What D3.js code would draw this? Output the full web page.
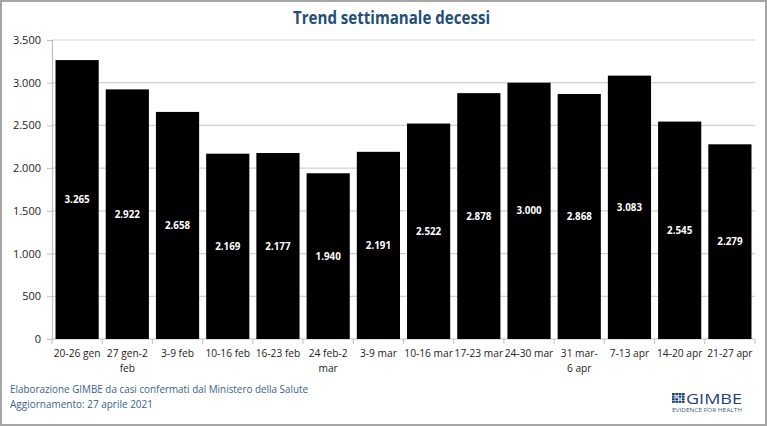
<!DOCTYPE html>
<html>
<head>
<meta charset="utf-8">
<script src="https://cdn.jsdelivr.net/npm/d3@7"></script>
<style>
  body { margin: 0; background: #fff; }
  svg { display: block; }
  text { font-family: "Open Sans", "Noto Sans", sans-serif; }
</style>
</head>
<body>
<svg id="chart" width="767" height="426"></svg>
<script>
// dati
const weeks = ["20-26 gen", "27 gen-2 feb", "3-9 feb", "10-16 feb", "16-23 feb", "24 feb-2 mar", "3-9 mar",
  "10-16 mar", "17-23 mar", "24-30 mar", "31 mar-6 apr", "7-13 apr", "14-20 apr", "21-27 apr"];
// etichette su due righe
const weekLines = [["20-26 gen"], ["27 gen-2", "feb"], ["3-9 feb"], ["10-16 feb"], ["16-23 feb"], ["24 feb-2", "mar"],
  ["3-9 mar"], ["10-16 mar"], ["17-23 mar"], ["24-30 mar"], ["31 mar-", "6 apr"], ["7-13 apr"], ["14-20 apr"], ["21-27 apr"]];
const deaths = [3265, 2922, 2658, 2169, 2177, 1940, 2191, 2522, 2878, 3000, 2868, 3083, 2545, 2279];
const yTicks = [0, 500, 1000, 1500, 2000, 2500, 3000, 3500];

const it = d3.formatLocale({ decimal: ",", thousands: ".", grouping: [3], currency: ["€", ""] });
const fmt = it.format(",d");

const svg = d3.select("#chart");
const mLeft = 52, mRight = 755, mTop = 40, mBottom = 339;

// cornice
svg.append("rect")
  .attr("x", 1).attr("y", 1).attr("width", 765).attr("height", 424)
  .attr("fill", "#fff").attr("stroke", "#a6a6a6").attr("stroke-width", 2);

// titolo
svg.append("text")
  .attr("x", 293).attr("y", 24)
  .attr("font-size", 17.5).attr("font-weight", "bold")
  .attr("fill", "#1f4e79")
  .attr("textLength", 197).attr("lengthAdjust", "spacingAndGlyphs")
  .text("Trend settimanale decessi");

const x = d3.scaleBand().domain(weeks).range([mLeft, mRight]).paddingInner(0.14).paddingOuter(0.07);
const y = d3.scaleLinear().domain([0, 3500]).range([mBottom, mTop]);

// griglia
svg.append("g")
  .selectAll("line")
  .data(yTicks.slice(1))
  .enter()
  .append("line")
  .attr("x1", mLeft).attr("x2", mRight)
  .attr("y1", d => y(d)).attr("y2", d => y(d))
  .attr("stroke", "#d0d0d0").attr("stroke-width", 1.2);

// asse y
const yAxis = svg.append("g")
  .attr("transform", `translate(${mLeft},0)`)
  .call(d3.axisLeft(y).tickValues(yTicks).tickFormat(fmt).tickSize(5).tickPadding(6));
yAxis.select(".domain").attr("stroke", "#bfbfbf").attr("stroke-width", 1.2);
yAxis.selectAll(".tick line").attr("stroke", "#bfbfbf");
yAxis.selectAll(".tick text").attr("font-size", 11).attr("fill", "#222");

// asse x
const bounds = weeks.map((w, i) => i === 0 ? mLeft : x(w) - x.step() * x.paddingInner() / 2).concat([mRight]);
const xAxis = svg.append("g");
xAxis.append("line")
  .attr("x1", mLeft).attr("x2", mRight).attr("y1", mBottom).attr("y2", mBottom)
  .attr("stroke", "#bfbfbf").attr("stroke-width", 1.2);
xAxis.selectAll(".xt")
  .data(bounds)
  .enter()
  .append("line")
  .attr("class", "xt")
  .attr("x1", d => d).attr("x2", d => d)
  .attr("y1", mBottom).attr("y2", mBottom + 5)
  .attr("stroke", "#bfbfbf");

const lab = xAxis.selectAll(".xl")
  .data(weeks)
  .enter()
  .append("text")
  .attr("class", "xl")
  .attr("text-anchor", "middle")
  .attr("font-size", 10.2)
  .attr("fill", "#222");
lab.selectAll("tspan")
  .data((d, i) => weekLines[i].map(l => ({ l, w: d })))
  .enter()
  .append("tspan")
  .attr("x", d => x(d.w) + x.bandwidth() / 2)
  .attr("y", (d, j) => 357 + j * 14.5)
  .text(d => d.l);

// barre
svg.append("g")
  .selectAll("rect")
  .data(deaths)
  .enter()
  .append("rect")
  .attr("x", (d, i) => x(weeks[i]))
  .attr("y", d => y(d))
  .attr("width", x.bandwidth())
  .attr("height", d => mBottom - y(d))
  .attr("fill", "#000");

// etichette valori
svg.append("g")
  .selectAll("text")
  .data(deaths)
  .enter()
  .append("text")
  .attr("x", (d, i) => x(weeks[i]) + x.bandwidth() / 2)
  .attr("y", d => (y(d) + mBottom) / 2 + 3.5)
  .attr("text-anchor", "middle")
  .attr("font-size", 9.8).attr("font-weight", "bold")
  .attr("fill", "#fff")
  .text(d => fmt(d));

// note
const foot = svg.append("g").attr("fill", "#3a5f8a").attr("font-size", 11);
foot.append("text").attr("x", 10).attr("y", 393)
  .attr("textLength", 298).attr("lengthAdjust", "spacingAndGlyphs")
  .text("Elaborazione GIMBE da casi confermati dal Ministero della Salute");
foot.append("text").attr("x", 10).attr("y", 408)
  .attr("textLength", 143).attr("lengthAdjust", "spacingAndGlyphs")
  .text("Aggiornamento:  27 aprile 2021");

// logo GIMBE
const logo = svg.append("g").attr("fill", "#1f3f73");
logo.selectAll("rect")
  .data(d3.range(16))
  .enter()
  .append("rect")
  .attr("x", d => 672 + (d % 4) * 3.3)
  .attr("y", d => 393 + Math.floor(d / 4) * 2.6)
  .attr("width", 2.7).attr("height", 2.1)
  .attr("fill", d => (d === 5 || d === 10) ? "#9fb2cc" : "#1f3f73");
logo.append("text")
  .attr("x", 686).attr("y", 404)
  .attr("font-family", "'Liberation Serif', 'DejaVu Serif', serif")
  .attr("font-size", 15)
  .attr("textLength", 56).attr("lengthAdjust", "spacingAndGlyphs")
  .text("GIMBE");
logo.append("text")
  .attr("x", 672).attr("y", 412)
  .attr("font-size", 5)
  .attr("textLength", 70).attr("lengthAdjust", "spacingAndGlyphs")
  .attr("fill", "#3a5f8a")
  .text("EVIDENCE FOR HEALTH");
</script>
</body>
</html>
